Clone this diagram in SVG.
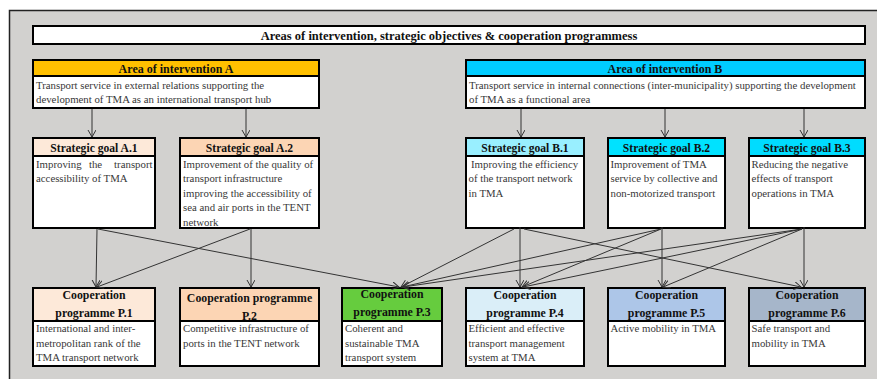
<svg xmlns="http://www.w3.org/2000/svg" width="877" height="379" viewBox="0 0 877 379">
<style>
.bx{stroke:#000;stroke-width:2}
.bd{fill:#fff;stroke:#000;stroke-width:2}
.h{font-family:"Liberation Serif","Times New Roman",serif;font-weight:bold;fill:#111;text-anchor:middle}
.h0{font-size:12.5px}
.ha{font-size:12px}
.h1{font-size:11.6px}
.h2{font-size:11.8px}
.t{font-family:"Liberation Serif","Times New Roman",serif;font-size:10.8px;fill:#383838}
.c line{stroke:#333;stroke-width:1;marker-end:url(#ar)}
</style>
<defs>
<marker id="ar" markerUnits="userSpaceOnUse" markerWidth="10" markerHeight="10" refX="7" refY="4" orient="auto">
<path d="M0,0 L7,4 L0,8" fill="none" stroke="#333" stroke-width="1"/>
</marker>
</defs>
<rect x="9.5" y="10.5" width="880" height="380" fill="#D2D1CF" stroke="#222" stroke-width="1.5"/>

<g id="title">
<rect class="bd" x="33" y="26" width="832" height="18"/>
<text class="h h0" x="449" y="39.5">Areas of intervention, strategic objectives &amp; cooperation programmess</text>
</g>

<g id="areaA">
<rect class="bx" x="33" y="60" width="286" height="16" fill="#FFC000"/>
<rect class="bd" x="33" y="76" width="286" height="32"/>
<text class="h ha" x="176" y="72.5">Area of intervention A</text>
<text class="t" x="36" y="89">Transport service in external relations supporting the</text>
<text class="t" x="36" y="103">development of TMA as an international transport hub</text>
</g>

<g id="areaB">
<rect class="bx" x="466" y="60" width="399" height="16" fill="#00CCFF"/>
<rect class="bd" x="466" y="76" width="399" height="32"/>
<text class="h ha" x="665" y="72.5">Area of intervention B</text>
<text class="t" x="469" y="89">Transport service in internal connections (inter-municipality) supporting the development</text>
<text class="t" x="469" y="103">of TMA as a functional area</text>
</g>

<g id="goalA1">
<rect class="bx" x="33" y="138" width="122" height="18" fill="#FDE9D9"/>
<rect class="bd" x="33" y="156" width="122" height="72"/>
<text class="h h1" x="94" y="152">Strategic goal A.1</text>
<text class="t" x="36" y="168">Improving</text>
<text class="t" x="95.5" y="168" text-anchor="middle">the</text>
<text class="t" x="152.5" y="168" text-anchor="end">transport</text>
<text class="t" x="36" y="182">accessibility of TMA</text>
</g>

<g id="goalA2">
<rect class="bx" x="180" y="138" width="139" height="18" fill="#FCD5B4"/>
<rect class="bd" x="180" y="156" width="139" height="72"/>
<text class="h h1" x="249.5" y="152">Strategic goal A.2</text>
<text class="t" x="183" y="168">Improvement of the quality of</text>
<text class="t" x="183" y="182">transport infrastructure</text>
<text class="t" x="183" y="196.5">improving the accessibility of</text>
<text class="t" x="183" y="211">sea and air ports in the TENT</text>
<text class="t" x="183" y="225.5">network</text>
</g>

<g id="goalB1">
<rect class="bx" x="466" y="138" width="118" height="18" fill="#99EFFF"/>
<rect class="bd" x="466" y="156" width="118" height="72"/>
<text class="h h1" x="525" y="152">Strategic goal B.1</text>
<text class="t" x="471" y="168">Improving the efficiency</text>
<text class="t" x="468.5" y="182">of the transport network</text>
<text class="t" x="468.5" y="196.5">in TMA</text>
</g>

<g id="goalB2">
<rect class="bx" x="608" y="138" width="117" height="18" fill="#00E2FF"/>
<rect class="bd" x="608" y="156" width="117" height="72"/>
<text class="h h1" x="666.5" y="152">Strategic goal B.2</text>
<text class="t" x="610.5" y="168">Improvement of TMA</text>
<text class="t" x="610.5" y="182">service by collective and</text>
<text class="t" x="610.5" y="196.5">non-motorized transport</text>
</g>

<g id="goalB3">
<rect class="bx" x="749" y="138" width="116" height="18" fill="#00DCFF"/>
<rect class="bd" x="749" y="156" width="116" height="72"/>
<text class="h h1" x="807" y="152">Strategic goal B.3</text>
<text class="t" x="751.5" y="168">Reducing the negative</text>
<text class="t" x="751.5" y="182">effects of transport</text>
<text class="t" x="751.5" y="196.5">operations in TMA</text>
</g>

<g id="progP1">
<rect class="bx" x="33" y="288" width="122" height="33" fill="#FDE9D9"/>
<text class="h h2" x="94" y="299">Cooperation</text>
<text class="h h2" x="94" y="317">programme P.1</text>
<rect class="bd" x="33" y="321" width="122" height="45"/>
<text class="t" x="36" y="332">International and inter-</text>
<text class="t" x="36" y="346.5">metropolitan rank of the</text>
<text class="t" x="36" y="361">TMA transport network</text>
</g>

<g id="progP2">
<rect class="bx" x="180" y="288" width="139" height="33" fill="#FCD5B4"/>
<text class="h h2" x="249.5" y="302">Cooperation programme</text>
<text class="h h2" x="249.5" y="320">P.2</text>
<rect class="bd" x="180" y="321" width="139" height="45"/>
<text class="t" x="183" y="332">Competitive infrastructure of</text>
<text class="t" x="183" y="346.5">ports in the TENT network</text>
</g>

<g id="progP3">
<rect class="bx" x="342" y="288" width="100" height="33" fill="#66CC3E"/>
<text class="h h2" x="392" y="298">Cooperation</text>
<text class="h h2" x="392" y="316">programme P.3</text>
<rect class="bd" x="342" y="321" width="100" height="45"/>
<text class="t" x="345" y="332">Coherent and</text>
<text class="t" x="345" y="346.5">sustainable TMA</text>
<text class="t" x="345" y="361">transport system</text>
</g>

<g id="progP4">
<rect class="bx" x="466" y="288" width="118" height="33" fill="#DAEEF8"/>
<text class="h h2" x="525" y="299">Cooperation</text>
<text class="h h2" x="525" y="316.5">programme P.4</text>
<rect class="bd" x="466" y="321" width="118" height="45"/>
<text class="t" x="468.5" y="332">Efficient and effective</text>
<text class="t" x="468.5" y="346.5">transport management</text>
<text class="t" x="468.5" y="361">system at TMA</text>
</g>

<g id="progP5">
<rect class="bx" x="608" y="288" width="117" height="33" fill="#ADC6E8"/>
<text class="h h2" x="666.5" y="299">Cooperation</text>
<text class="h h2" x="666.5" y="316.5">programme P.5</text>
<rect class="bd" x="608" y="321" width="117" height="45"/>
<text class="t" x="610.5" y="332">Active mobility in TMA</text>
</g>

<g id="progP6">
<rect class="bx" x="749" y="288" width="116" height="33" fill="#A6B6CA"/>
<text class="h h2" x="807" y="299">Cooperation</text>
<text class="h h2" x="807" y="316.5">programme P.6</text>
<rect class="bd" x="749" y="321" width="116" height="45"/>
<text class="t" x="751.5" y="332">Safe transport and</text>
<text class="t" x="751.5" y="346.5">mobility in TMA</text>
</g>

<g id="connectors" class="c">
<line x1="92" y1="109" x2="92" y2="137"/>
<line x1="246" y1="109" x2="246" y2="137"/>
<line x1="521" y1="109" x2="521" y2="137"/>
<line x1="665" y1="109" x2="665" y2="137"/>
<line x1="804" y1="109" x2="804" y2="137"/>
<line x1="97" y1="229" x2="96" y2="287"/>
<line x1="98" y1="229" x2="399" y2="287"/>
<line x1="250" y1="229" x2="97" y2="287"/>
<line x1="251" y1="229" x2="251" y2="287"/>
<line x1="514" y1="229" x2="401" y2="287"/>
<line x1="520" y1="227" x2="520" y2="287"/>
<line x1="524" y1="229" x2="801" y2="287"/>
<line x1="661" y1="229" x2="402" y2="287"/>
<line x1="661" y1="229" x2="522" y2="287"/>
<line x1="662" y1="227" x2="662" y2="287"/>
<line x1="802" y1="229" x2="403" y2="287"/>
<line x1="802" y1="229" x2="523" y2="287"/>
<line x1="802" y1="229" x2="663" y2="287"/>
<line x1="804" y1="227" x2="804" y2="287"/>
</g>
</svg>
